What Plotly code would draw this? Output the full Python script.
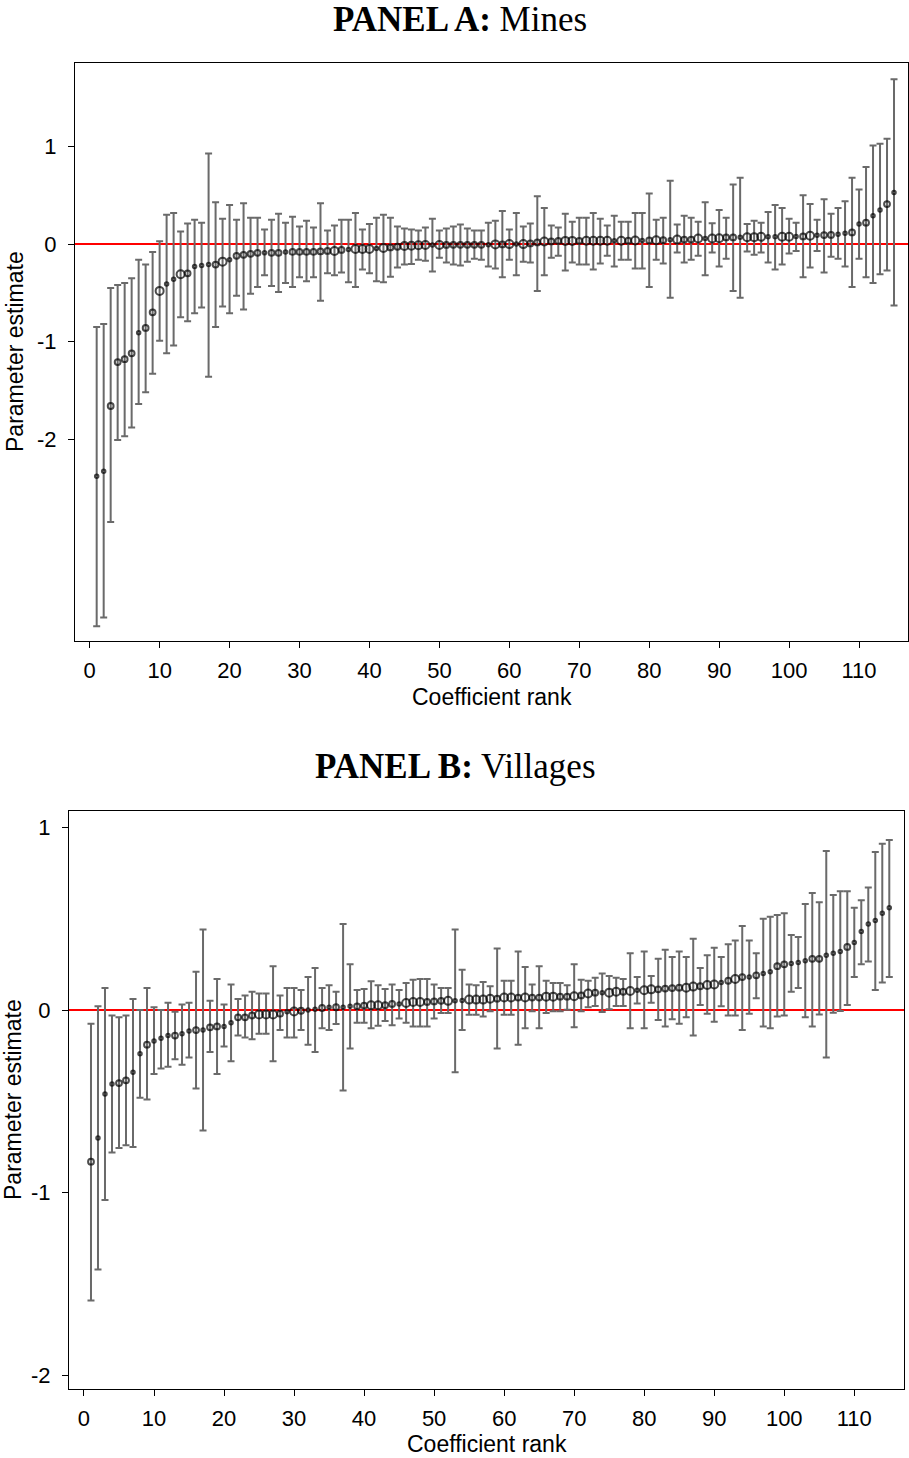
import plotly.graph_objects as go

W, H = 909, 1458

rank = list(range(1, 116))

# ---------------- Panel A: Mines ----------------
A_est = [-2.38, -2.33, -1.66, -1.21, -1.18, -1.12, -0.91, -0.86, -0.70, -0.48,
         -0.41, -0.36, -0.31, -0.30, -0.23, -0.22, -0.21, -0.21, -0.18, -0.16,
         -0.12, -0.11, -0.10, -0.09, -0.09, -0.09, -0.09, -0.08, -0.08, -0.08,
         -0.08, -0.08, -0.075, -0.07, -0.07, -0.06, -0.055, -0.05, -0.05, -0.05,
         -0.045, -0.04, -0.034, -0.027, -0.02, -0.017, -0.012, -0.01, -0.01, -0.009,
         -0.009, -0.008, -0.008, -0.008, -0.007, -0.007, -0.006, -0.003, -0.003, 0.0,
         0.0, 0.0, 0.007, 0.017, 0.027, 0.027, 0.032, 0.033, 0.033, 0.034,
         0.034, 0.034, 0.034, 0.034, 0.034, 0.035, 0.035, 0.036, 0.036, 0.037,
         0.04, 0.04, 0.044, 0.046, 0.046, 0.046, 0.058, 0.058, 0.058, 0.06,
         0.068, 0.068, 0.07, 0.07, 0.07, 0.075, 0.075, 0.075, 0.075, 0.076,
         0.077, 0.079, 0.085, 0.09, 0.092, 0.094, 0.10, 0.11, 0.12, 0.205,
         0.22, 0.29, 0.35, 0.41, 0.53]
A_lo = [-3.92, -3.83, -2.85, -2.01, -1.97, -1.88, -1.64, -1.52, -1.33, -0.99,
        -1.12, -1.04, -0.75, -0.79, -0.71, -0.65, -1.36, -0.85, -0.64, -0.71,
        -0.53, -0.67, -0.51, -0.44, -0.32, -0.43, -0.49, -0.40, -0.44, -0.34,
        -0.38, -0.34, -0.58, -0.30, -0.32, -0.29, -0.39, -0.44, -0.26, -0.30,
        -0.38, -0.39, -0.335, -0.24, -0.21, -0.205, -0.16, -0.17, -0.28, -0.14,
        -0.19, -0.21, -0.22, -0.18, -0.15, -0.16, -0.23, -0.25, -0.34, -0.16,
        -0.32, -0.18, -0.19, -0.48, -0.32, -0.14, -0.12, -0.27, -0.19, -0.21,
        -0.21, -0.26, -0.20, -0.12, -0.23, -0.16, -0.16, -0.25, -0.25, -0.44,
        -0.16, -0.20, -0.55, -0.085, -0.19, -0.16, -0.12, -0.32, -0.085, -0.23,
        -0.15, -0.48, -0.55, -0.075, -0.11, -0.085, -0.19, -0.26, -0.21, -0.096,
        -0.07, -0.34, -0.24, -0.07, -0.29, -0.13, -0.15, -0.23, -0.44, -0.15,
        -0.34, -0.40, -0.31, -0.27, -0.63]
A_hi = [-0.85, -0.82, -0.45, -0.42, -0.40, -0.35, -0.16, -0.21, -0.08, 0.03,
        0.30, 0.32, 0.13, 0.21, 0.25, 0.22, 0.93, 0.43, 0.26, 0.40,
        0.25, 0.42, 0.27, 0.27, 0.15, 0.25, 0.31, 0.22, 0.28, 0.18,
        0.24, 0.17, 0.42, 0.14, 0.19, 0.25, 0.25, 0.32, 0.15, 0.205,
        0.27, 0.30, 0.27, 0.18, 0.16, 0.15, 0.14, 0.17, 0.26, 0.14,
        0.16, 0.18, 0.20, 0.16, 0.14, 0.14, 0.22, 0.24, 0.34, 0.15,
        0.32, 0.18, 0.21, 0.49, 0.37, 0.19, 0.17, 0.31, 0.23, 0.27,
        0.27, 0.32, 0.26, 0.19, 0.29, 0.23, 0.23, 0.32, 0.32, 0.52,
        0.25, 0.27, 0.65, 0.20, 0.29, 0.27, 0.23, 0.43, 0.215, 0.35,
        0.27, 0.61, 0.68, 0.205, 0.24, 0.22, 0.33, 0.40, 0.37, 0.26,
        0.22, 0.50, 0.41, 0.25, 0.46, 0.31, 0.37, 0.44, 0.68, 0.56,
        0.79, 1.01, 1.03, 1.08, 1.69]
# weight class of each estimate (1 = low, 2 = medium, 3 = high)
A_wt = [1, 1, 2, 2, 2, 2, 1, 2, 2, 3,
        1, 1, 3, 2, 1, 1, 1, 2, 3, 1,
        2, 2, 2, 2, 1, 2, 2, 1, 2, 2,
        2, 2, 2, 2, 3, 2, 1, 3, 3, 3,
        1, 3, 2, 2, 3, 3, 3, 3, 1, 3,
        2, 2, 2, 2, 2, 2, 1, 3, 2, 3,
        1, 3, 2, 2, 3, 2, 2, 3, 3, 2,
        3, 3, 3, 3, 1, 3, 2, 3, 1, 2,
        3, 2, 1, 3, 2, 2, 3, 1, 3, 3,
        2, 2, 1, 3, 3, 3, 1, 1, 3, 3,
        1, 2, 3, 1, 2, 2, 1, 1, 2, 1,
        2, 1, 1, 2, 1]

# ---------------- Panel B: Villages ----------------
B_est = [-0.83, -0.70, -0.46, -0.405, -0.40, -0.385, -0.34, -0.24, -0.19, -0.17,
         -0.155, -0.14, -0.14, -0.13, -0.115, -0.11, -0.11, -0.095, -0.09, -0.09,
         -0.07, -0.04, -0.04, -0.03, -0.025, -0.025, -0.025, -0.02, -0.01, -0.008,
         -0.004, 0.0, 0.004, 0.011, 0.015, 0.015, 0.015, 0.02, 0.02, 0.024,
         0.026, 0.026, 0.026, 0.033, 0.033, 0.038, 0.044, 0.044, 0.044, 0.047,
         0.05, 0.05, 0.051, 0.052, 0.057, 0.057, 0.057, 0.062, 0.062, 0.068,
         0.068, 0.068, 0.068, 0.068, 0.068, 0.073, 0.073, 0.073, 0.073, 0.075,
         0.08, 0.09, 0.095, 0.095, 0.095, 0.10, 0.10, 0.104, 0.108, 0.108,
         0.113, 0.113, 0.117, 0.12, 0.122, 0.122, 0.128, 0.13, 0.137, 0.14,
         0.15, 0.16, 0.17, 0.18, 0.18, 0.19, 0.20, 0.21, 0.24, 0.25,
         0.254, 0.26, 0.27, 0.28, 0.28, 0.30, 0.31, 0.32, 0.345, 0.37,
         0.43, 0.47, 0.49, 0.53, 0.56]
B_lo = [-1.59, -1.42, -1.04, -0.78, -0.755, -0.74, -0.75, -0.48, -0.49, -0.35,
        -0.32, -0.31, -0.27, -0.30, -0.26, -0.43, -0.66, -0.23, -0.35, -0.20,
        -0.28, -0.14, -0.15, -0.16, -0.13, -0.13, -0.28, -0.11, -0.15, -0.15,
        -0.11, -0.19, -0.23, -0.10, -0.11, -0.077, -0.44, -0.21, -0.07, -0.07,
        -0.10, -0.086, -0.06, -0.084, -0.047, -0.07, -0.09, -0.09, -0.09, -0.047,
        -0.016, -0.016, -0.34, -0.11, -0.026, -0.026, -0.035, -0.007, -0.21, -0.026,
        -0.026, -0.19, -0.10, -0.007, -0.10, -0.016, -0.007, -0.007, 0.002, -0.095,
        -0.007, 0.015, 0.022, -0.011, 0.004, 0.022, 0.022, -0.10, 0.035, -0.10,
        0.04, -0.055, -0.09, -0.05, -0.075, -0.04, -0.14, 0.027, -0.02, -0.064,
        0.02, -0.03, -0.03, -0.11, -0.02, 0.064, -0.09, -0.10, -0.036, -0.03,
        0.10, 0.12, -0.04, -0.09, -0.024, -0.26, -0.015, -0.005, 0.027, 0.18,
        0.25, 0.265, 0.11, 0.15, 0.18]
B_hi = [-0.075, 0.02, 0.12, -0.03, -0.04, -0.03, 0.06, 0.0, 0.12, 0.015,
        0.0, 0.04, -0.01, 0.03, 0.04, 0.21, 0.44, 0.05, 0.17, 0.03,
        0.14, 0.06, 0.08, 0.10, 0.09, 0.09, 0.24, 0.08, 0.12, 0.12,
        0.11, 0.18, 0.23, 0.12, 0.135, 0.10, 0.47, 0.25, 0.11, 0.115,
        0.157, 0.135, 0.115, 0.14, 0.11, 0.148, 0.166, 0.17, 0.17, 0.14,
        0.12, 0.12, 0.44, 0.22, 0.14, 0.135, 0.153, 0.13, 0.336, 0.16,
        0.16, 0.32, 0.235, 0.14, 0.24, 0.16, 0.148, 0.148, 0.135, 0.25,
        0.166, 0.16, 0.177, 0.20, 0.186, 0.177, 0.17, 0.31, 0.18, 0.32,
        0.186, 0.28, 0.33, 0.29, 0.32, 0.29, 0.39, 0.23, 0.30, 0.34,
        0.29, 0.36, 0.38, 0.46, 0.38, 0.31, 0.50, 0.51, 0.52, 0.53,
        0.41, 0.40, 0.58, 0.64, 0.59, 0.87, 0.63, 0.65, 0.65, 0.56,
        0.60, 0.67, 0.865, 0.91, 0.93]
B_wt = [2, 1, 1, 1, 2, 2, 1, 1, 2, 1,
        1, 1, 2, 1, 1, 2, 1, 2, 2, 1,
        1, 2, 2, 2, 3, 3, 3, 2, 1, 3,
        2, 1, 1, 2, 1, 2, 1, 1, 2, 2,
        3, 3, 2, 2, 1, 3, 3, 3, 2, 2,
        2, 3, 1, 1, 3, 3, 3, 3, 2, 3,
        3, 2, 3, 2, 2, 3, 3, 2, 2, 3,
        2, 3, 2, 1, 3, 3, 2, 3, 1, 3,
        3, 2, 2, 2, 2, 3, 3, 2, 3, 3,
        1, 2, 3, 2, 1, 2, 1, 1, 2, 2,
        1, 1, 1, 2, 2, 1, 1, 1, 2, 1,
        1, 1, 1, 1, 1]

x_ticks = list(range(0, 111, 10))
y_ticks = [-2, -1, 0, 1]
y_ticktext = ["-2", "-1", "0", "1"]

# ---------------- styling ----------------
SIZE = {1: 3.5, 2: 5.8, 3: 8.0}
BAR_COLOR = "#6a6a6a"
TICK_FONT = dict(family="Liberation Sans, Arial, sans-serif", size=22, color="black")
LABEL_FONT = dict(family="Liberation Sans, Arial, sans-serif", size=23, color="black")
TITLE_FONT = dict(family="Liberation Serif, Times New Roman, serif", size=35, color="black")


def trace(est, lo, hi, wt, xa, ya):
    plus = [h - e for h, e in zip(hi, est)]
    minus = [e - l for e, l in zip(est, lo)]
    return go.Scatter(
        x=rank, y=est, mode="markers", xaxis=xa, yaxis=ya, showlegend=False,
        marker=dict(symbol="circle-open", size=[SIZE[w] for w in wt], color="black",
                    line=dict(width=2.0, color="black")),
        error_y=dict(type="data", symmetric=False, array=plus, arrayminus=minus,
                     color=BAR_COLOR, thickness=2, width=3.5),
    )


fig = go.Figure()
fig.add_trace(trace(A_est, A_lo, A_hi, A_wt, "x", "y"))
fig.add_trace(trace(B_est, B_lo, B_hi, B_wt, "x2", "y2"))

# plot-area pixel boxes (left, right, top, bottom)
A_box = (75, 908, 63, 641)
B_box = (69, 904, 811, 1389)


def dom_x(b):
    return [b[0] / W, b[1] / W]


def dom_y(b):
    return [1 - b[3] / H, 1 - b[2] / H]


axis_common = dict(showline=True, linecolor="black", linewidth=1.2, mirror=True,
                   ticks="outside", ticklen=6, tickwidth=1.2, tickcolor="black",
                   showgrid=False, zeroline=False, tickfont=TICK_FONT)

fig.update_layout(
    width=W, height=H, margin=dict(l=0, r=0, t=0, b=0),
    paper_bgcolor="white", plot_bgcolor="white",
    xaxis=dict(domain=dom_x(A_box), range=[-2.1, 117.0], tickvals=x_ticks, anchor="y",
               ticklabelstandoff=3, **axis_common),
    yaxis=dict(domain=dom_y(A_box), range=[-4.07, 1.857], tickvals=y_ticks, ticktext=y_ticktext,
               anchor="x", ticklabelstandoff=7, **axis_common),
    xaxis2=dict(domain=dom_x(B_box), range=[-2.14, 117.1], tickvals=x_ticks, anchor="y2",
                ticklabelstandoff=3, **axis_common),
    yaxis2=dict(domain=dom_y(B_box), range=[-2.074, 1.089], tickvals=y_ticks, ticktext=y_ticktext,
                anchor="x2", ticklabelstandoff=7, **axis_common),
    shapes=[
        dict(type="line", xref="x domain", yref="y", x0=0, x1=1, y0=0, y1=0,
             line=dict(color="red", width=2), layer="below"),
        dict(type="line", xref="x2 domain", yref="y2", x0=0, x1=1, y0=0, y1=0,
             line=dict(color="red", width=2), layer="below"),
    ],
)

ann = []
ann.append(dict(text="<b>PANEL A:</b> Mines", x=460 / W, y=1 - 19 / H, xref="paper", yref="paper",
                xanchor="center", yanchor="middle", showarrow=False, font=TITLE_FONT))
ann.append(dict(text="<b>PANEL B:</b> Villages", x=455 / W, y=1 - 766 / H, xref="paper", yref="paper",
                xanchor="center", yanchor="middle", showarrow=False, font=TITLE_FONT))
ann.append(dict(text="Coefficient rank", x=492 / W, y=1 - 697 / H, xref="paper", yref="paper",
                xanchor="center", yanchor="middle", showarrow=False, font=LABEL_FONT))
ann.append(dict(text="Coefficient rank", x=487 / W, y=1 - 1444 / H, xref="paper", yref="paper",
                xanchor="center", yanchor="middle", showarrow=False, font=LABEL_FONT))
ann.append(dict(text="Parameter estimate", x=15 / W, y=1 - 352 / H, xref="paper", yref="paper",
                xanchor="center", yanchor="middle", textangle=-90, showarrow=False, font=LABEL_FONT))
ann.append(dict(text="Parameter estimate", x=13 / W, y=1 - 1100 / H, xref="paper", yref="paper",
                xanchor="center", yanchor="middle", textangle=-90, showarrow=False, font=LABEL_FONT))
fig.update_layout(annotations=ann)

fig.write_html("out.html", config={"displayModeBar": False},
               post_script="document.body.style.margin='0';")
